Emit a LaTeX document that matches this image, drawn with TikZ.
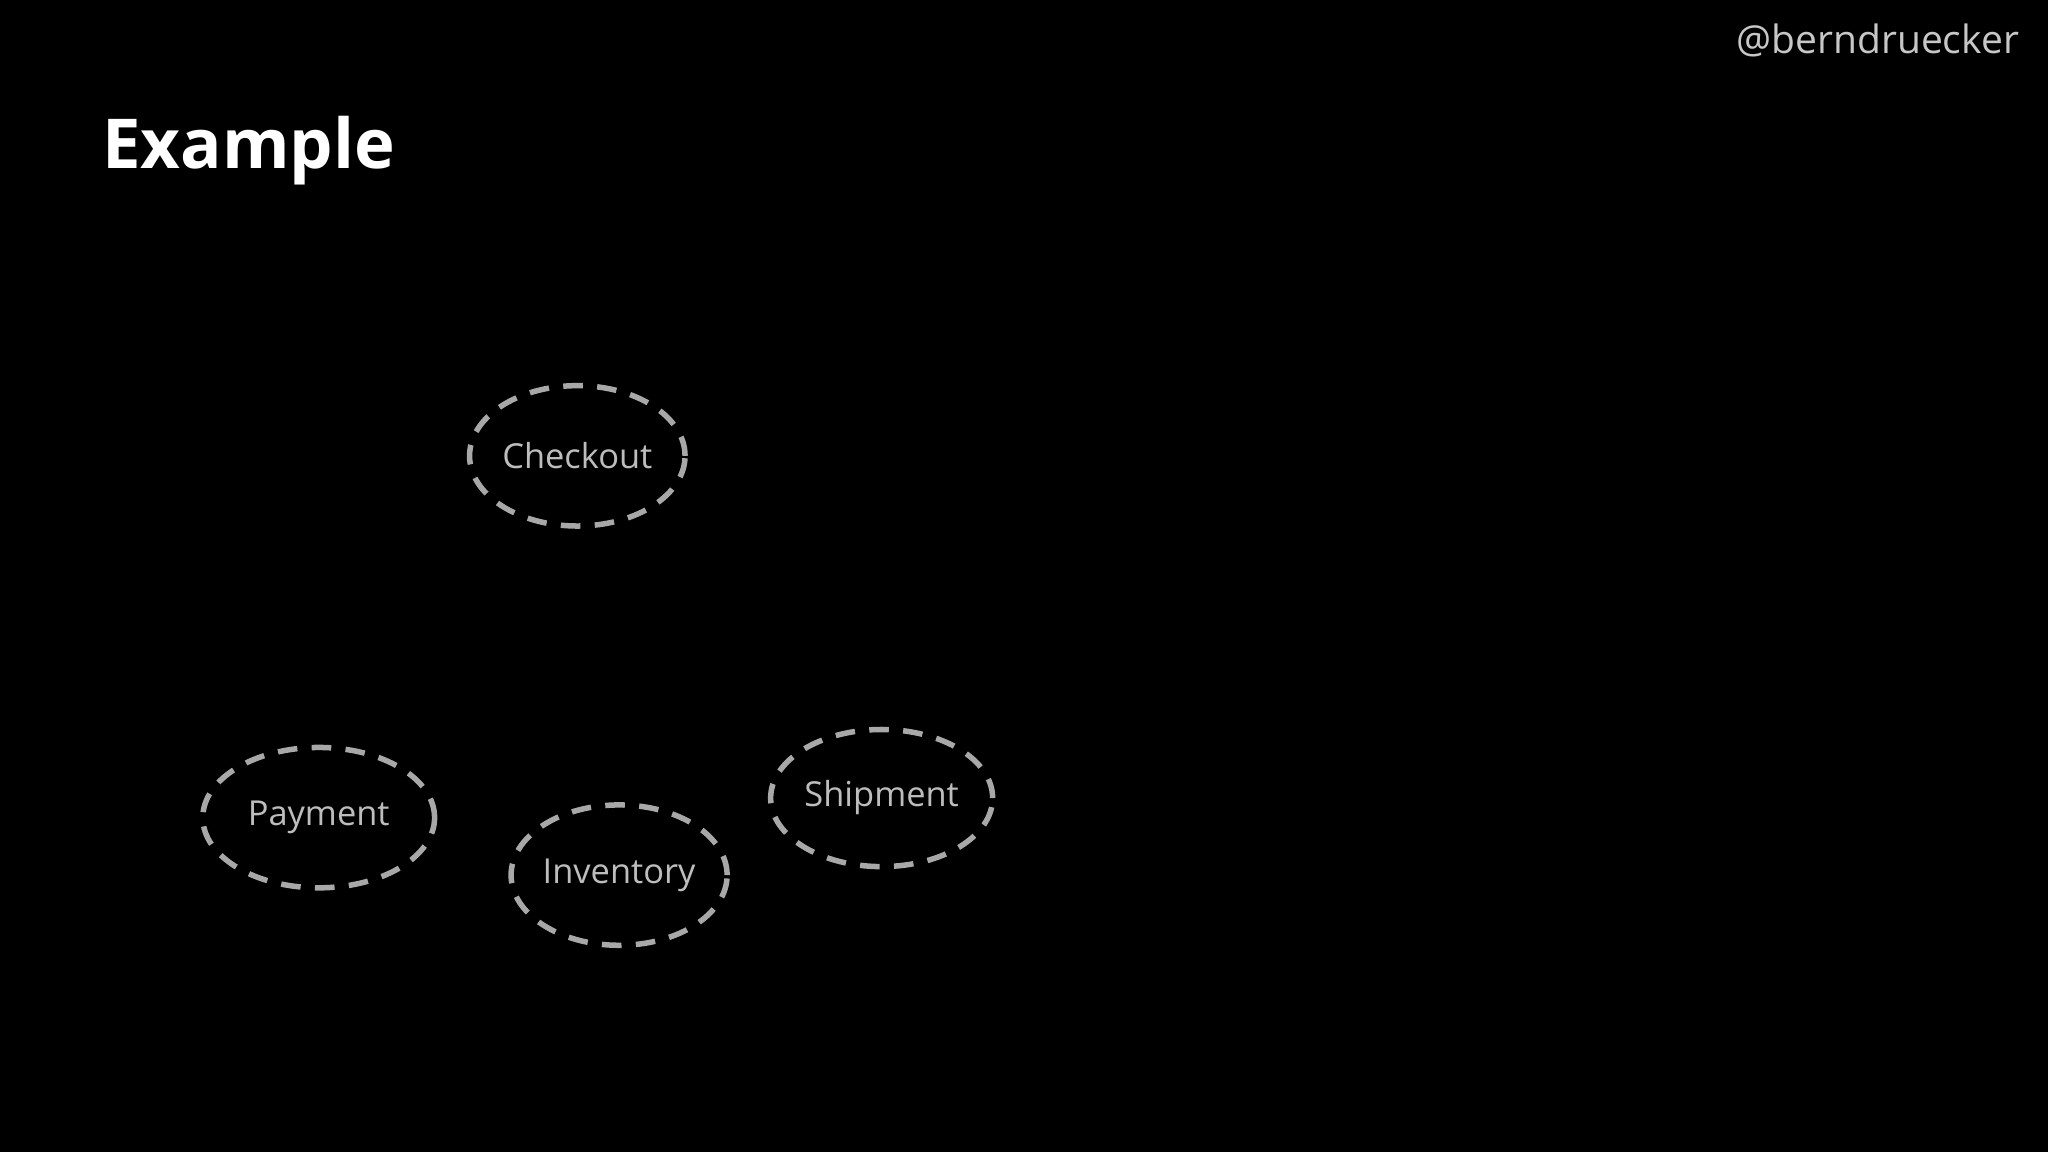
\documentclass[tikz,border=0pt]{standalone}
\usepackage{fontspec}
\setmainfont{Open Sans}
\usetikzlibrary{shapes.geometric}
\definecolor{ringgray}{HTML}{A8A8A8}
\definecolor{txtgray}{HTML}{BDBDBD}
\begin{document}
\begin{tikzpicture}[x=0.02cm,y=-0.02cm,
  svc/.style={ellipse,draw=ringgray,line width=2.4pt,dash pattern=on 0.3cm off 0.22cm,
    text=txtgray,font=\fontsize{15}{18}\selectfont,inner sep=0pt}]
\fill[black] (0,0) rectangle (1568,882);
\useasboundingbox (0,0) rectangle (1568,882);
\node[anchor=east,text=txtgray!85,font=\fontsize{17}{20}\selectfont] (handle) at (1552,31) {@berndruecker};
\node[anchor=west,text=white,font=\bfseries\fontsize{30}{34}\selectfont] (title) at (72,115) {Example};
\node[svc,minimum width=3.3cm,minimum height=2.15cm] (checkout) at (442,349) {Checkout};
\node[svc,minimum width=3.55cm,minimum height=2.15cm] (payment) at (244,626) {Payment};
\node[svc,minimum width=3.3cm,minimum height=2.15cm] (inventory) at (474,670) {Inventory};
\node[svc,minimum width=3.4cm,minimum height=2.1cm] (shipment) at (675,611) {Shipment};
\end{tikzpicture}
\end{document}
